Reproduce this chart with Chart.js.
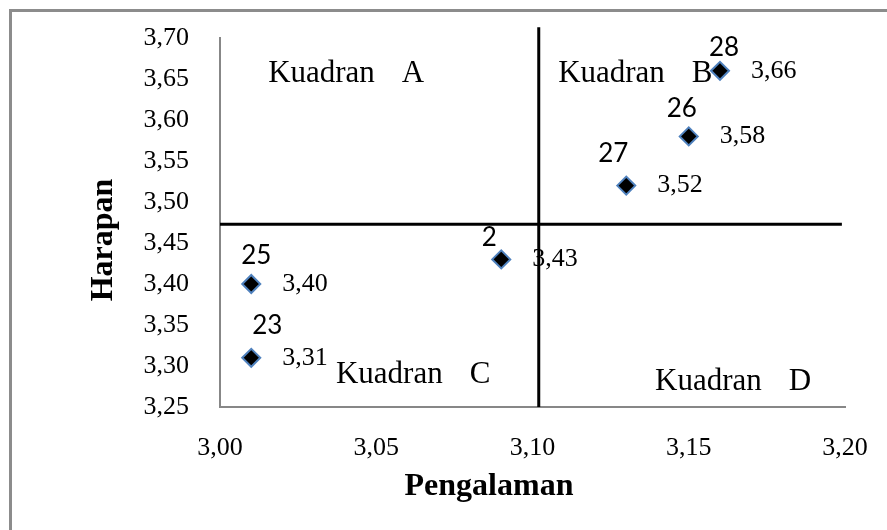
<!DOCTYPE html>
<html>
<head>
<meta charset="utf-8">
<title>Kuadran Harapan - Pengalaman</title>
<script src="https://cdn.jsdelivr.net/npm/chart.js@4.4.1/dist/chart.umd.min.js"></script>
<style>
  html, body { margin: 0; padding: 0; background: #fff; }
  #wrap { width: 887px; height: 530px; }
</style>
</head>
<body>
<div id="wrap"><canvas id="chart" width="887" height="530"></canvas></div>
<script>
// nomor responden, nilai pengalaman (x) dan harapan (y)
const respondents = ["25", "23", "2", "27", "26", "28"];
const pengalaman = [3.01, 3.01, 3.09, 3.13, 3.15, 3.16];
const harapan = [3.40, 3.31, 3.43, 3.52, 3.58, 3.66];

const xTicks = [3.00, 3.05, 3.10, 3.15, 3.20];
const yTicks = [3.25, 3.30, 3.35, 3.40, 3.45, 3.50, 3.55, 3.60, 3.65, 3.70];

// garis pembagi kuadran
const meanPengalaman = 3.102;
const meanHarapan = 3.473;
const vLineY = [3.25, 3.713];
const hLineX = [3.00, 3.199];

// teks kuadran (posisi dalam satuan sumbu)
const quadrants = ["A", "B", "C", "D"];
const quadrantX = [3.0154, 3.1082, 3.0371, 3.1392];
const quadrantY = [3.6463, 3.6463, 3.2793, 3.2707];

// geser label nomor responden (px) relatif ke titik
const idShift = [[5, -28], [16, -32], [-12, -22], [-13, -32], [-7, -28], [4, -23]];

const SERIF = '"Liberation Serif", "Times New Roman", serif';
const fmt = v => Number(v).toFixed(2).replace(".", ",");
const axisGray = "#878787";

const framePlugin = {
  id: "frame",
  beforeDraw(chart) {
    const { ctx } = chart;
    ctx.save();
    ctx.strokeStyle = "#8c8c8c";
    ctx.lineWidth = 3;
    ctx.strokeRect(10.5, 10.5, 900, 600);
    ctx.restore();
  },
};

const textPlugin = {
  id: "texts",
  beforeDatasetsDraw(chart) {
    const { ctx, scales } = chart;
    ctx.save();
    ctx.fillStyle = "#000";

    // Kuadran A..D
    ctx.font = "31px " + SERIF;
    ctx.textAlign = "left";
    ctx.textBaseline = "alphabetic";
    quadrants.forEach((q, i) => {
      const px = scales.x.getPixelForValue(quadrantX[i]);
      const py = scales.y.getPixelForValue(quadrantY[i]);
      const w = ctx.measureText("Kuadran").width;
      ctx.fillText("Kuadran", px, py);
      ctx.fillText(q, px + w + 27, py);
    });

    // label titik
    const meta = chart.getDatasetMeta(0);
    meta.data.forEach((pt, i) => {
      ctx.font = '26px Lato, "Open Sans", sans-serif';
      ctx.textAlign = "center";
      ctx.textBaseline = "middle";
      ctx.fillText(respondents[i], pt.x + idShift[i][0], pt.y + idShift[i][1]);

      ctx.font = "26px " + SERIF;
      ctx.textAlign = "left";
      ctx.fillText(fmt(harapan[i]), pt.x + 31, pt.y);
    });
    ctx.restore();
  },
};

const axisTitlePlugin = {
  id: "axisTitles",
  afterDraw(chart) {
    const { ctx } = chart;
    ctx.save();
    ctx.fillStyle = "#000";
    ctx.font = "bold 32px " + SERIF;
    ctx.textAlign = "center";
    ctx.textBaseline = "middle";
    ctx.fillText("Pengalaman", 489, 487);
    ctx.translate(104, 240);
    ctx.rotate(-Math.PI / 2);
    ctx.fillText("Harapan", 0, 0);
    ctx.restore();
  },
};

const tickFont = { family: SERIF, size: 26 };

new Chart(document.getElementById("chart"), {
  type: "scatter",
  plugins: [framePlugin, textPlugin, axisTitlePlugin],
  data: {
    datasets: [
      {
        data: pengalaman.map((x, i) => ({ x, y: harapan[i] })),
        pointStyle: "rectRot",
        pointRadius: 9,
        pointHoverRadius: 9,
        backgroundColor: "#000",
        borderColor: "#4f81bd",
        borderWidth: 2,
      },
      {
        data: vLineY.map(y => ({ x: meanPengalaman, y })),
        showLine: true,
        borderColor: "#000",
        borderWidth: 3,
        pointRadius: 0,
        clip: false,
      },
      {
        data: hLineX.map(x => ({ x, y: meanHarapan })),
        showLine: true,
        borderColor: "#000",
        borderWidth: 3,
        pointRadius: 0,
        clip: false,
      },
    ],
  },
  options: {
    responsive: false,
    animation: false,
    events: [],
    layout: { autoPadding: false, padding: { left: 0, top: 38, right: 42, bottom: 0 } },
    plugins: {
      legend: { display: false },
      tooltip: { enabled: false },
    },
    scales: {
      x: {
        type: "linear",
        min: 3.0,
        max: 3.2,
        afterBuildTicks: s => { s.ticks = xTicks.map(v => ({ value: v })); },
        afterFit: s => { s.height = 123; },
        // hidden tick marks only keep the labels away from the axis
        grid: { display: false, drawTicks: true, tickLength: 26 },
        border: { display: true, color: axisGray, width: 2 },
        ticks: { font: tickFont, color: "#000", padding: 0, autoSkip: false, maxRotation: 0, callback: fmt },
      },
      y: {
        type: "linear",
        min: 3.25,
        max: 3.7,
        afterBuildTicks: s => { s.ticks = yTicks.map(v => ({ value: v })); },
        afterFit: s => { s.width = 220; },
        grid: { display: false, drawTicks: true, tickLength: 31 },
        border: { display: true, color: axisGray, width: 2 },
        ticks: { font: tickFont, color: "#000", padding: 0, autoSkip: false, callback: fmt },
      },
    },
  },
});
</script>
</body>
</html>
